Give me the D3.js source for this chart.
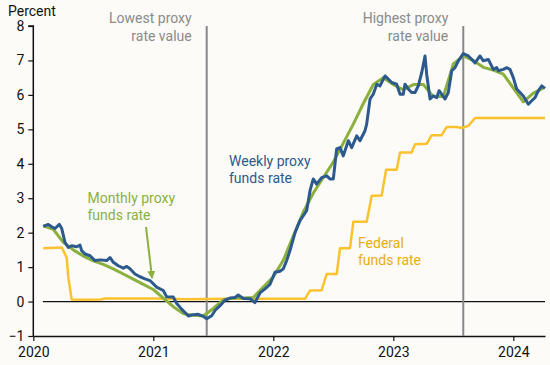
<!DOCTYPE html>
<html lang="en">
<head>
    <meta charset="UTF-8">
    <title>Proxy funds rate</title>
    <style>
        html, body { margin: 0; padding: 0; background: #fcfbf8; }
        svg { display: block; font-family: Roboto, "Noto Sans", sans-serif; }
    </style>
</head>
<body>
    <div id="wrapper"></div>
    <script src="https://d3js.org/d3.v7.min.js"></script>
    <script>
        // x values are decimal years
        const yearTicks = [2020, 2021, 2022, 2023, 2024];
        const percentTicks = [-1, 0, 1, 2, 3, 4, 5, 6, 7, 8];

        // monthly proxy, Feb 2020 .. Apr 2024
        const monthlyStart = 1; // months after Jan 2020
        const monthlyProxy = [2.2, 2.1, 1.72, 1.5, 1.32, 1.18, 1.08, 0.95, 0.8, 0.65, 0.5,
            0.35, 0.1, -0.15, -0.35, -0.4, -0.42, -0.2, 0.05, 0.1, 0.1, 0.12, 0.42,
            0.72, 1.2, 1.9, 2.6, 3.15, 3.6, 4.05, 4.6, 5.15, 5.75, 6.3, 6.5,
            6.3, 6.15, 6.3, 6.3, 5.95, 5.95, 6.9, 7.13, 7.0, 6.8, 6.72, 6.6,
            6.2, 5.8, 6.05, 6.2];

        // weekly proxy
        const weeklyDates = [2020.083, 2020.125, 2020.153, 2020.181, 2020.217, 2020.237, 2020.264, 2020.292,
            2020.32, 2020.362, 2020.389, 2020.403, 2020.431, 2020.473, 2020.514, 2020.556, 2020.612,
            2020.639, 2020.667, 2020.708, 2020.75, 2020.778, 2020.806, 2020.833, 2020.847, 2020.889,
            2020.931, 2020.972, 2021.028, 2021.083, 2021.111, 2021.167, 2021.194, 2021.236, 2021.292,
            2021.333, 2021.375, 2021.417, 2021.445, 2021.487, 2021.514, 2021.556, 2021.597, 2021.639,
            2021.681, 2021.708, 2021.75, 2021.806, 2021.847, 2021.889, 2021.931, 2021.972, 2022.014,
            2022.056, 2022.083, 2022.111, 2022.139, 2022.181, 2022.222, 2022.278, 2022.306, 2022.333,
            2022.361, 2022.403, 2022.445, 2022.472, 2022.5, 2022.528, 2022.556, 2022.583, 2022.625,
            2022.653, 2022.695, 2022.722, 2022.764, 2022.778, 2022.806, 2022.833, 2022.862, 2022.889,
            2022.931, 2022.958, 2022.987, 2023.028, 2023.056, 2023.083, 2023.097, 2023.125, 2023.153,
            2023.181, 2023.208, 2023.237, 2023.264, 2023.278, 2023.306, 2023.333, 2023.362, 2023.381,
            2023.403, 2023.431, 2023.458, 2023.487, 2023.514, 2023.542, 2023.583, 2023.625, 2023.653,
            2023.681, 2023.722, 2023.75, 2023.792, 2023.833, 2023.862, 2023.875, 2023.917, 2023.945,
            2023.972, 2024.0, 2024.028, 2024.056, 2024.083, 2024.125, 2024.153, 2024.181, 2024.208,
            2024.237, 2024.264];
        const weeklyProxy = [2.18, 2.24, 2.17, 2.12, 2.24, 2.12, 1.72, 1.57,
            1.62, 1.59, 1.64, 1.48, 1.38, 1.33, 1.19, 1.21, 1.19,
            1.28, 1.14, 1.04, 0.97, 1.02, 0.95, 0.85, 0.8, 0.72,
            0.66, 0.61, 0.42, 0.32, 0.14, 0.13, -0.05, -0.22, -0.42,
            -0.38, -0.37, -0.43, -0.5, -0.41, -0.26, -0.12, 0.04, 0.1,
            0.12, 0.19, 0.09, 0.08, -0.03, 0.25, 0.37, 0.5, 0.85,
            0.88, 0.95, 1.19, 1.48, 2.0, 2.35, 2.64, 3.22, 3.56,
            3.41, 3.6, 3.65, 3.56, 3.56, 4.43, 4.47, 4.23, 4.67,
            4.47, 4.81, 4.67, 4.96, 5.15, 5.88, 6.02, 6.31, 6.26,
            6.55, 6.46, 6.36, 6.31, 6.02, 6.02, 6.31, 6.17, 6.07,
            6.07, 6.26, 6.65, 7.13, 6.6, 5.88, 5.97, 5.92, 6.12,
            6.02, 5.88, 6.07, 6.7, 6.79, 6.99, 7.2, 7.13, 7.03,
            6.93, 7.13, 6.99, 7.03, 6.74, 6.79, 6.7, 6.74, 6.79,
            6.74, 6.5, 6.17, 6.07, 5.97, 5.73, 5.83, 5.92, 6.12,
            6.26, 6.19];

        // effective federal funds rate
        const fedDates = [2020.083, 2020.237, 2020.278, 2020.292, 2020.32, 2020.45, 2020.56, 2020.6,
            2020.8, 2021.0, 2021.3, 2021.6, 2022.0, 2022.264, 2022.306, 2022.403, 2022.445,
            2022.528, 2022.556, 2022.639, 2022.667, 2022.778, 2022.82, 2022.903, 2022.94,
            2023.028, 2023.056, 2023.153, 2023.181, 2023.278, 2023.32, 2023.403, 2023.445,
            2023.528, 2023.57, 2023.625, 2023.681, 2024.264];
        const fedFunds = [1.55, 1.57, 1.28, 0.7, 0.06, 0.05, 0.06, 0.09,
            0.09, 0.09, 0.07, 0.08, 0.08, 0.08, 0.32, 0.33, 0.8,
            0.8, 1.55, 1.55, 2.32, 2.32, 3.07, 3.08, 3.83,
            3.83, 4.33, 4.33, 4.57, 4.58, 4.83, 4.83, 5.07,
            5.07, 5.04, 5.1, 5.33, 5.33];

        const lowestProxy = 2021.445;
        const highestProxy = 2023.583;

        const width = 550, height = 365;
        const x = d3.scaleLinear().domain([2020, 2024.264]).range([33.3, 545]);
        const y = d3.scaleLinear().domain([-1, 8]).range([336, 26]);

        const svg = d3.select('#wrapper').append('svg')
            .attr('width', width)
            .attr('height', height);

        const blue = '#2c5a8c', green = '#8bb03d', gold = '#fcc22e';

        // axes
        const yAxis = svg.append('g')
            .attr('transform', `translate(${x(2020)},0)`)
            .call(d3.axisLeft(y).tickValues(percentTicks).tickSize(5).tickPadding(4).tickFormat(d3.format('d')));
        const xAxis = svg.append('g')
            .attr('transform', `translate(0,${y(-1)})`)
            .call(d3.axisBottom(x).tickValues(yearTicks).tickSize(5).tickPadding(6).tickFormat(d3.format('d')).tickSizeOuter(0));
        [yAxis, xAxis].forEach(a => {
            a.select('.domain').attr('stroke', '#111').attr('stroke-width', 1.5);
            a.selectAll('.tick line').attr('stroke', '#111').attr('stroke-width', 1.2);
            a.selectAll('.tick text').attr('fill', '#111').style('font-size', '14px').style('font-family', 'Roboto');
        });
        yAxis.select('.domain').attr('d', `M-5,${y(8)}H0V${y(-1)}`);

        svg.append('text')
            .attr('x', 8).attr('y', 16)
            .attr('fill', '#111').style('font-size', '14px')
            .text('Percent');

        // zero line
        svg.append('line')
            .attr('x1', x(2020.08)).attr('x2', x(2024.264))
            .attr('y1', y(0)).attr('y2', y(0))
            .attr('stroke', '#111').attr('stroke-width', 1.2);

        // markers for lowest / highest proxy
        [lowestProxy, highestProxy].forEach(t => {
            svg.append('line')
                .attr('x1', x(t)).attr('x2', x(t))
                .attr('y1', y(8)).attr('y2', y(-1))
                .attr('stroke', '#888').attr('stroke-width', 2);
        });
        const markLabel = (t, lines) => {
            const txt = svg.append('text')
                .attr('text-anchor', 'end')
                .attr('fill', '#8a8a8a').style('font-size', '14px');
            lines.forEach((l, i) => txt.append('tspan').attr('x', x(t) - 15).attr('y', 23 + i * 18).text(l));
        };
        markLabel(lowestProxy, ['Lowest proxy', 'rate value']);
        markLabel(highestProxy, ['Highest proxy', 'rate value']);

        const line = d3.line()
            .x(d => x(d[0]))
            .y(d => y(d[1]))
            .curve(d3.curveLinear);

        const fedData = fedDates.map((d, i) => [d, fedFunds[i]]);
        const monthlyData = monthlyProxy.map((v, i) => [2020 + (monthlyStart + i) / 12, v]);
        const weeklyData = weeklyDates.map((d, i) => [d, weeklyProxy[i]]);

        svg.append('path')
            .attr('d', line(fedData))
            .attr('fill', 'none').attr('stroke', gold).attr('stroke-width', 2.5)
            .attr('stroke-linejoin', 'round');
        svg.append('path')
            .attr('d', line(monthlyData))
            .attr('fill', 'none').attr('stroke', green).attr('stroke-width', 3)
            .attr('stroke-linejoin', 'round');
        svg.append('path')
            .attr('d', line(weeklyData))
            .attr('fill', 'none').attr('stroke', blue).attr('stroke-width', 3)
            .attr('stroke-linejoin', 'round');

        // series labels
        const seriesLabel = (px, py, color, lines) => {
            const txt = svg.append('text').attr('fill', color).style('font-size', '14px');
            lines.forEach((l, i) => txt.append('tspan').attr('x', px).attr('y', py + i * 17).text(l));
        };
        seriesLabel(229, 166, blue, ['Weekly proxy', 'funds rate']);
        seriesLabel(87.5, 203, green, ['Monthly proxy', 'funds rate']);
        seriesLabel(358, 248, '#e9ad10', ['Federal', 'funds rate']);

        // arrow to monthly line
        svg.append('defs').append('marker')
            .attr('id', 'arrow')
            .attr('viewBox', '0 0 10 10')
            .attr('refX', 9).attr('refY', 5)
            .attr('markerWidth', 4).attr('markerHeight', 4)
            .attr('orient', 'auto')
            .append('path')
            .attr('d', 'M0,0L10,5L0,10Z')
            .attr('fill', green);
        svg.append('line')
            .attr('x1', 146).attr('y1', 227)
            .attr('x2', x(2020.99)).attr('y2', y(0.68))
            .attr('stroke', green).attr('stroke-width', 2)
            .attr('marker-end', 'url(#arrow)');
    </script>
</body>
</html>
